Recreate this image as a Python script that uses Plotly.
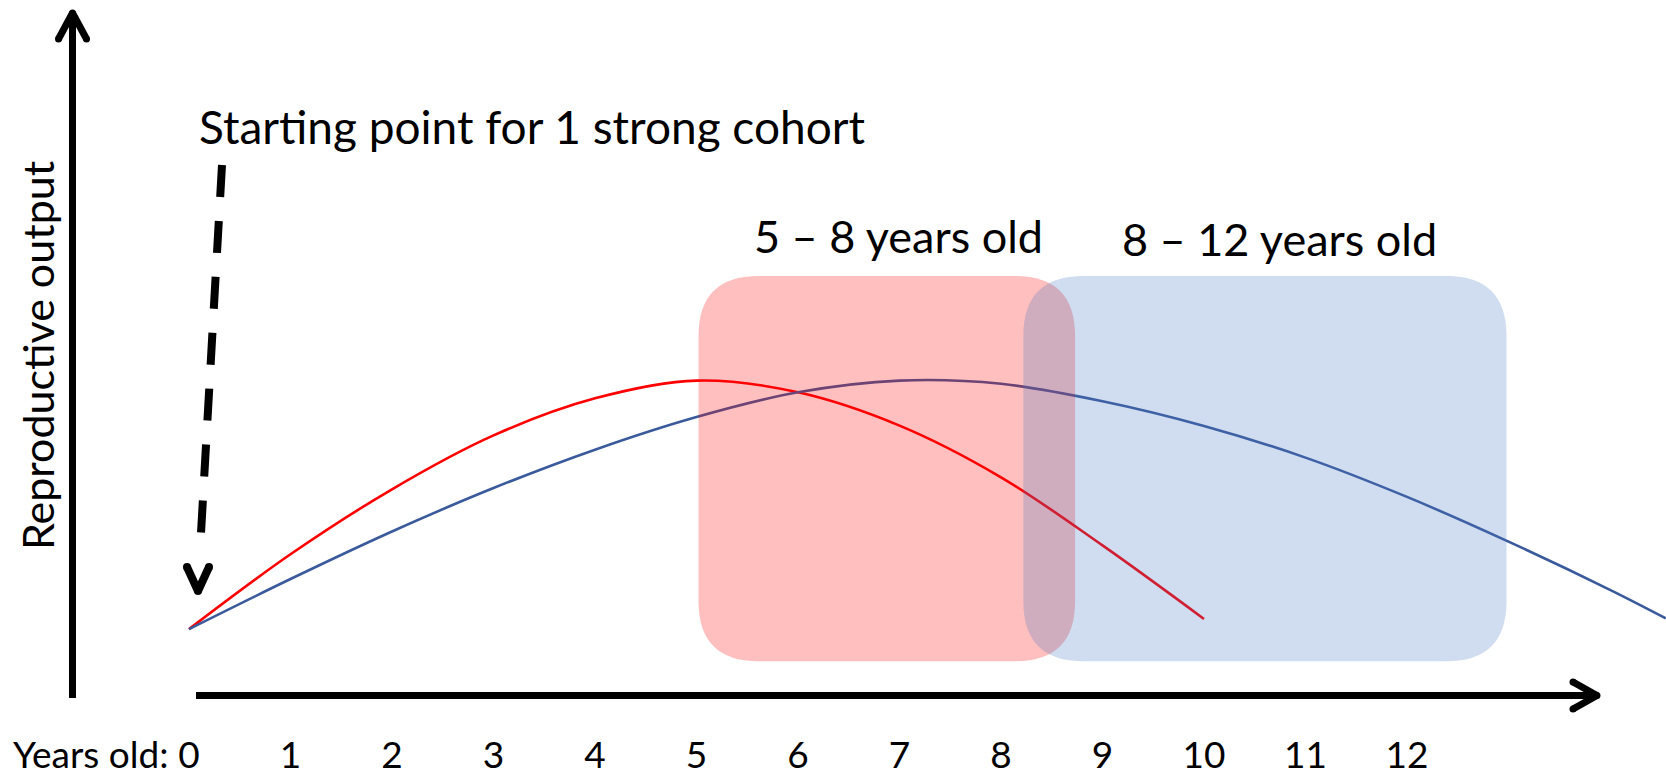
import plotly.graph_objects as go

W, H = 1666, 775

# ---- data ----
years_red = [0, 1, 2, 3, 4, 5, 6, 7, 8, 9, 10]
output_red = [0.211, 0.447, 0.652, 0.822, 0.939, 0.995, 0.958, 0.853, 0.690, 0.475, 0.243]

years_blue = [0, 1, 2, 3, 4, 5, 6, 7, 8, 9, 10, 11, 12, 13, 14, 14.55]
output_blue = [0.211, 0.369, 0.519, 0.656, 0.777, 0.880, 0.958, 0.995, 0.985,
               0.930, 0.852, 0.752, 0.628, 0.487, 0.335, 0.245]

tick_years = [0, 1, 2, 3, 4, 5, 6, 7, 8, 9, 10, 11, 12]
tick_labels = ["0", "1", "2", "3", "4", "5", "6", "7", "8", "9", "10", "11", "12"]

group_labels = ["5 \u2013 8 years old", "8 \u2013 12 years old"]
y_title = "Reproductive output"
x_prefix = "Years old:"
start_label = "Starting point for 1 strong cohort"

FONT = "Lato"
FS_TEXT = 45
FS_TICK = 37

def px(x):
    return x / W

def py(y):
    return 1 - y / H

# axis scale: year 0 at px 189, 101.5 px / year ; output 0 at px 696, 317 px / unit
X0PX, XSC = 189.0, 101.5
Y0PX, YSC = 696.0, 317.0
PLOT_BOTTOM = 730.0
x_range = [-X0PX / XSC, (W - X0PX) / XSC]
y_range = [(Y0PX - PLOT_BOTTOM) / YSC, Y0PX / YSC]

fig = go.Figure()
fig.add_trace(go.Scatter(x=years_red, y=output_red, mode="lines",
                         line=dict(color="#FF0000", width=2.6, shape="spline", smoothing=1.0),
                         hoverinfo="skip", showlegend=False))
fig.add_trace(go.Scatter(x=years_blue, y=output_blue, mode="lines",
                         line=dict(color="#3A5A9C", width=2.6, shape="spline", smoothing=1.0),
                         hoverinfo="skip", showlegend=False))

shapes = []

def rounded_box(x0, x1, y0, y1, rpx, color):
    rx = rpx / XSC
    ry = rpx / YSC
    path = (f"M {x0+rx},{y1} L {x1-rx},{y1} Q {x1},{y1} {x1},{y1-ry} "
            f"L {x1},{y0+ry} Q {x1},{y0} {x1-rx},{y0} L {x0+rx},{y0} "
            f"Q {x0},{y0} {x0},{y0+ry} L {x0},{y1-ry} Q {x0},{y1} {x0+rx},{y1} Z")
    return dict(type="path", path=path, xref="x", yref="y", fillcolor=color,
                line=dict(width=0), layer="above")

shapes.append(rounded_box(5.02, 8.73, 0.110, 1.325, 60, "rgba(255,0,0,0.25)"))
shapes.append(rounded_box(8.22, 12.98, 0.110, 1.325, 60, "rgba(74,120,193,0.26)"))

def seg(x0, y0, x1, y1, w, dash=None):
    ln = dict(color="black", width=w)
    if dash:
        ln["dash"] = dash
    return dict(type="line", xref="paper", yref="paper",
                x0=px(x0), y0=py(y0), x1=px(x1), y1=py(y1), line=ln, layer="above")

def dot(cx, cy, r):
    return dict(type="circle", xref="paper", yref="paper",
                x0=px(cx - r), x1=px(cx + r), y0=py(cy + r), y1=py(cy - r),
                fillcolor="black", line=dict(width=0), layer="above")

def chevron(tip, a, b, w):
    out = [seg(a[0], a[1], tip[0], tip[1], w), seg(b[0], b[1], tip[0], tip[1], w)]
    out += [dot(a[0], a[1], w / 2), dot(b[0], b[1], w / 2), dot(tip[0], tip[1], w / 2)]
    return out

shapes.append(seg(72.5, 14, 72.5, 698, 7))
shapes += chevron((72.5, 13), (58.5, 39), (86.5, 39), 7)
shapes.append(seg(196, 695.5, 1596, 695.5, 7))
shapes += chevron((1597, 695.5), (1573, 682), (1573, 709), 7)
shapes.append(seg(222, 165, 201, 533, 8, dash="32px,24px"))
shapes += chevron((198, 591), (187, 567), (209, 567), 8)

def txt(s, x, y, size, xanchor="center", angle=0):
    return dict(text=s, x=px(x), y=py(y), xref="paper", yref="paper",
                xanchor=xanchor, yanchor="middle", textangle=angle, showarrow=False,
                font=dict(family=FONT, size=size, color="black"))

annotations = [
    txt(start_label, 197, 127, 46, xanchor="left"),
    txt(group_labels[0], 898, 236, FS_TEXT),
    txt(group_labels[1], 1279, 239, FS_TEXT),
    txt(y_title, 37, 356, 43, angle=-90),
    txt(x_prefix, 171, 753, 37, xanchor="right"),
]

fig.update_layout(
    width=W, height=H,
    margin=dict(l=0, r=0, t=0, b=0, pad=0),
    paper_bgcolor="white", plot_bgcolor="white",
    showlegend=False,
    shapes=shapes, annotations=annotations,
    xaxis=dict(range=x_range, domain=[0, 1], tickvals=tick_years, ticktext=tick_labels,
               showgrid=False, zeroline=False, showline=False, ticks="",
               tickfont=dict(family=FONT, size=FS_TICK, color="black"), fixedrange=True),
    yaxis=dict(range=y_range, domain=[1 - PLOT_BOTTOM / H, 1], showgrid=False,
               zeroline=False, showline=False, showticklabels=False, ticks="",
               fixedrange=True),
)

fig.write_html("out.html", config={"displayModeBar": False},
               post_script="document.body.style.margin='0px';document.body.style.overflow='hidden';")
